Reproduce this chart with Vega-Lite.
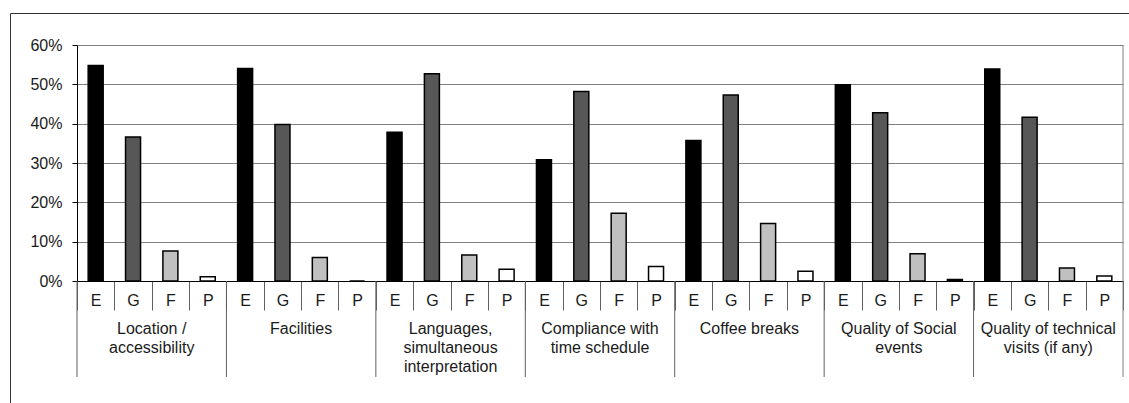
{
  "$schema": "https://vega.github.io/schema/vega-lite/v6.json",
  "width": 1130,
  "height": 400,
  "autosize": {"type": "none"},
  "padding": {"left": 10, "top": 13, "right": 0, "bottom": 0},
  "background": "white",
  "config": {"view": {"stroke": "#333333", "strokeWidth": 1}, "font": "Liberation Sans"},
  "data": {
    "values": [
      {"key": "1E", "group": "Location /\naccessibility", "rating": "E", "value": 0.548},
      {"key": "1G", "group": "Location /\naccessibility", "rating": "G", "value": 0.366},
      {"key": "1F", "group": "Location /\naccessibility", "rating": "F", "value": 0.076},
      {"key": "1P", "group": "Location /\naccessibility", "rating": "P", "value": 0.011},
      {"key": "2E", "group": "Facilities", "rating": "E", "value": 0.540},
      {"key": "2G", "group": "Facilities", "rating": "G", "value": 0.398},
      {"key": "2F", "group": "Facilities", "rating": "F", "value": 0.060},
      {"key": "2P", "group": "Facilities", "rating": "P", "value": 0.0},
      {"key": "3E", "group": "Languages,\nsimultaneous\ninterpretation", "rating": "E", "value": 0.378},
      {"key": "3G", "group": "Languages,\nsimultaneous\ninterpretation", "rating": "G", "value": 0.527},
      {"key": "3F", "group": "Languages,\nsimultaneous\ninterpretation", "rating": "F", "value": 0.066},
      {"key": "3P", "group": "Languages,\nsimultaneous\ninterpretation", "rating": "P", "value": 0.030},
      {"key": "4E", "group": "Compliance with\ntime schedule", "rating": "E", "value": 0.308},
      {"key": "4G", "group": "Compliance with\ntime schedule", "rating": "G", "value": 0.482},
      {"key": "4F", "group": "Compliance with\ntime schedule", "rating": "F", "value": 0.172},
      {"key": "4P", "group": "Compliance with\ntime schedule", "rating": "P", "value": 0.037},
      {"key": "5E", "group": "Coffee breaks", "rating": "E", "value": 0.357},
      {"key": "5G", "group": "Coffee breaks", "rating": "G", "value": 0.473},
      {"key": "5F", "group": "Coffee breaks", "rating": "F", "value": 0.146},
      {"key": "5P", "group": "Coffee breaks", "rating": "P", "value": 0.025},
      {"key": "6E", "group": "Quality of Social\nevents", "rating": "E", "value": 0.499},
      {"key": "6G", "group": "Quality of Social\nevents", "rating": "G", "value": 0.428},
      {"key": "6F", "group": "Quality of Social\nevents", "rating": "F", "value": 0.069},
      {"key": "6P", "group": "Quality of Social\nevents", "rating": "P", "value": 0.004},
      {"key": "7E", "group": "Quality of technical\nvisits (if any)", "rating": "E", "value": 0.539},
      {"key": "7G", "group": "Quality of technical\nvisits (if any)", "rating": "G", "value": 0.416},
      {"key": "7F", "group": "Quality of technical\nvisits (if any)", "rating": "F", "value": 0.033},
      {"key": "7P", "group": "Quality of technical\nvisits (if any)", "rating": "P", "value": 0.013}
    ]
  },
  "layer": [
    {
      "mark": {"type": "bar", "width": 15, "stroke": "black", "strokeWidth": 1.5},
      "encoding": {
        "x": {
          "field": "key", "type": "nominal",
          "scale": {
            "domain": ["1E","1G","1F","1P","2E","2G","2F","2P","3E","3G","3F","3P","4E","4G","4F","4P","5E","5G","5F","5P","6E","6G","6F","6P","7E","7G","7F","7P"],
            "range": [67, 1113], "paddingInner": 0, "paddingOuter": 0
          },
          "axis": {
            "title": null, "orient": "bottom", "offset": -132, "tickBand": "extent", "tickSize": 29,
            "tickColor": "#606060", "domainColor": "black",
            "labelExpr": "isString(datum.value) ? substring(datum.value, 1) : ''",
            "labelPadding": -18, "labelFontSize": 16, "labelColor": "#1a1a1a", "labelAngle": 0, "grid": false
          }
        },
        "y": {
          "field": "value", "type": "quantitative",
          "scale": {"domain": [0, 0.6], "range": [268, 32], "nice": false},
          "axis": {
            "title": null, "offset": -67, "values": [0, 0.1, 0.2, 0.3, 0.4, 0.5, 0.6], "format": ".0%",
            "grid": true, "gridColor": "#808080", "domainColor": "black", "tickColor": "black", "tickSize": 5,
            "labelPadding": 10, "labelFontSize": 16, "labelColor": "#1a1a1a"
          }
        },
        "fill": {
          "field": "rating", "type": "nominal",
          "scale": {"domain": ["E", "G", "F", "P"], "range": ["#000000", "#575757", "#c0c0c0", "#ffffff"]},
          "legend": null
        }
      }
    },
    {
      "transform": [{"filter": "datum.rating === 'G'"}],
      "mark": {"type": "text", "lineBreak": "\n", "baseline": "top", "align": "center", "fontSize": 16, "lineHeight": 18.7, "color": "#1a1a1a"},
      "encoding": {
        "x": {"field": "key", "type": "nominal", "bandPosition": 1},
        "y": {"datum": -0.102},
        "text": {"field": "group"}
      }
    },
    {
      "transform": [{"filter": "datum.rating === 'E'"}],
      "mark": {"type": "rule", "color": "#606060"},
      "encoding": {
        "x": {"field": "key", "type": "nominal", "bandPosition": 0},
        "y": {"datum": 0},
        "y2": {"datum": -0.244}
      }
    },
    {
      "transform": [{"filter": "datum.key === '7P'"}],
      "mark": {"type": "rule", "color": "#808080"},
      "encoding": {
        "x": {"field": "key", "type": "nominal", "bandPosition": 1},
        "y": {"datum": 0.6},
        "y2": {"datum": -0.244}
      }
    }
  ]
}
